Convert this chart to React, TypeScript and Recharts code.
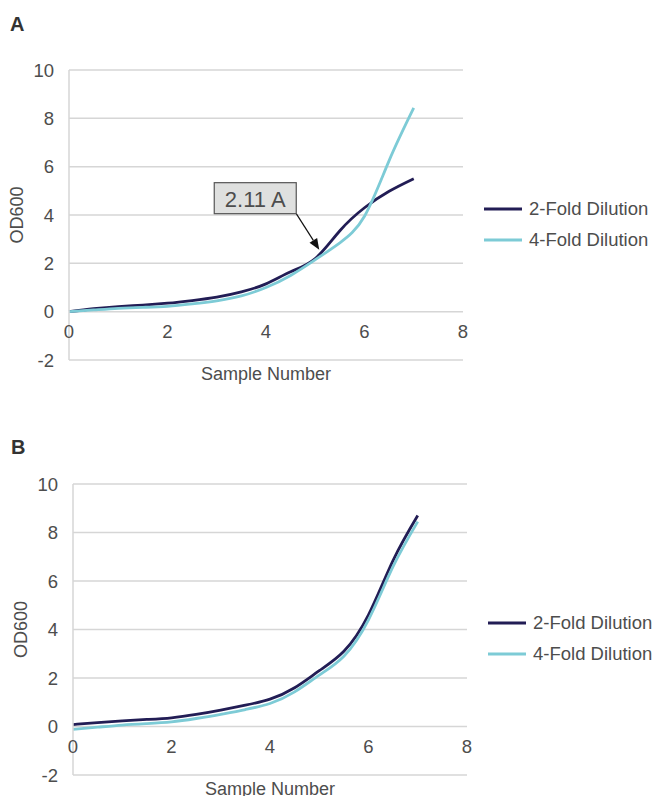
import React from "react";
import {
  LineChart,
  Line,
  XAxis,
  YAxis,
  CartesianGrid,
  Legend,
  ReferenceDot,
} from "recharts";

// sample numbers and OD600 values
const sampleX = [0, 0.5, 1, 1.5, 2, 2.5, 3, 3.5, 4, 4.5, 5, 5.5, 6, 6.5, 7];
const twoFoldA = [0, 0.12, 0.21, 0.27, 0.35, 0.46, 0.6, 0.82, 1.15, 1.65, 2.2, 3.35, 4.3, 4.98, 5.5];
const fourFoldA = [0, 0.07, 0.14, 0.18, 0.22, 0.32, 0.45, 0.65, 1.0, 1.5, 2.15, 2.85, 3.95, 6.25, 8.43];
const twoFoldB = [0.08, 0.16, 0.23, 0.29, 0.36, 0.5, 0.68, 0.88, 1.13, 1.6, 2.3, 3.1, 4.6, 6.85, 8.7];
const fourFoldB = [-0.12, -0.03, 0.06, 0.12, 0.19, 0.33, 0.5, 0.7, 0.95, 1.43, 2.12, 2.9, 4.4, 6.6, 8.45];

const yTicks = [-2, 0, 2, 4, 6, 8, 10];
const xTicks = [0, 2, 4, 6, 8];
const seriesNames = ["2-Fold Dilution", "4-Fold Dilution"];
const seriesColors = ["#221d55", "#7dcbd6"];

const annotationX = 5;
const annotationY = 2.11;
const annotationText = "2.11 A";

const dataA = sampleX.map((x, i) => ({ x, s2: twoFoldA[i], s4: fourFoldA[i] }));
const dataB = sampleX.map((x, i) => ({ x, s2: twoFoldB[i], s4: fourFoldB[i] }));

const FONT = "'Liberation Sans', Arial, Helvetica, sans-serif";
const TEXT = "#4d4d4d";
const GRID = "#d6d6d6";

const XTick = (props: any) => {
  const { x, y, payload } = props;
  // labels sit just under the zero line, not at the bottom of the plot
  return (
    <text x={x} y={y - 22} textAnchor="middle" fill={TEXT} fontSize={18.5} fontFamily={FONT}>
      {payload.value}
    </text>
  );
};

const LegendBox = (props: any) => {
  const items = props.payload || [];
  return (
    <div style={{ fontFamily: FONT, fontSize: 18.5, color: TEXT }}>
      {items.map((item: any) => (
        <div key={item.value} style={{ display: "flex", alignItems: "center", height: 31 }}>
          <svg width={38} height={6} style={{ marginRight: 7 }}>
            <line x1={0} y1={3} x2={38} y2={3} stroke={item.color} strokeWidth={3} />
          </svg>
          <span>{item.value}</span>
        </div>
      ))}
    </div>
  );
};

const Callout = (props: any) => {
  const { cx, cy } = props;
  const bx = cx - 101;
  const by = cy - 78;
  const sx = cx - 19;
  const sy = cy - 47;
  const tx = cx + 4;
  const ty = cy - 11;
  // arrow head along the line from box corner to tip
  const ang = Math.atan2(ty - sy, tx - sx);
  const len = 11;
  const half = 4.5;
  const baseX = tx - len * Math.cos(ang);
  const baseY = ty - len * Math.sin(ang);
  const p1 = `${baseX + half * Math.sin(ang)},${baseY - half * Math.cos(ang)}`;
  const p2 = `${baseX - half * Math.sin(ang)},${baseY + half * Math.cos(ang)}`;
  return (
    <g>
      <line x1={sx} y1={sy} x2={baseX} y2={baseY} stroke="#111" strokeWidth={1.2} />
      <polygon points={`${tx},${ty} ${p1} ${p2}`} fill="#111" />
      <rect x={bx} y={by} width={82} height={31} fill="#dfe0df" stroke="#555" strokeWidth={1.2} />
      <text x={bx + 41} y={by + 24} textAnchor="middle" fill={TEXT} fontSize={22} fontFamily={FONT}>
        {annotationText}
      </text>
    </g>
  );
};

function Panel({
  data,
  top,
  height,
  marginTop,
  marginBottom,
  marginLeft,
  marginRight,
  legendLeft,
  legendTop,
  withCallout,
}: any) {
  return (
    <div style={{ position: "absolute", left: 0, top }}>
      <LineChart
        width={656}
        height={height}
        data={data}
        margin={{ top: marginTop, right: marginRight, left: marginLeft, bottom: marginBottom }}
      >
        <CartesianGrid vertical={false} stroke={GRID} strokeWidth={1.5} />
        <XAxis
          dataKey="x"
          type="number"
          domain={[0, 8]}
          ticks={xTicks}
          height={25}
          axisLine={false}
          tickLine={false}
          tickSize={0}
          tickMargin={0}
          tick={<XTick />}
          label={{
            value: "Sample Number",
            position: "insideBottom",
            offset: 5,
            style: { fill: TEXT, fontSize: 18, fontFamily: FONT },
          }}
        />
        <YAxis
          type="number"
          domain={[-2, 10]}
          ticks={yTicks}
          width={57}
          axisLine={{ stroke: GRID, strokeWidth: 1.5 }}
          tickLine={false}
          tickSize={0}
          tickMargin={15}
          tick={{ fill: TEXT, fontSize: 18.5, fontFamily: FONT }}
          label={{
            value: "OD600",
            angle: -90,
            position: "insideLeft",
            style: { textAnchor: "middle", fill: TEXT, fontSize: 18, fontFamily: FONT },
          }}
        />
        <Line
          type="natural"
          dataKey="s2"
          name={seriesNames[0]}
          stroke={seriesColors[0]}
          strokeWidth={2.8}
          dot={false}
          isAnimationActive={false}
        />
        <Line
          type="natural"
          dataKey="s4"
          name={seriesNames[1]}
          stroke={seriesColors[1]}
          strokeWidth={2.8}
          dot={false}
          isAnimationActive={false}
        />
        {withCallout && (
          <ReferenceDot x={annotationX} y={annotationY} r={0} shape={<Callout />} />
        )}
        <Legend
          layout="vertical"
          align="center"
          verticalAlign="middle"
          wrapperStyle={{ left: legendLeft, top: legendTop, width: 172 }}
          content={<LegendBox />}
        />
      </LineChart>
    </div>
  );
}

export default function App() {
  return (
    <div
      style={{
        position: "absolute",
        left: 0,
        top: 0,
        width: 656,
        height: 796,
        overflow: "hidden",
        background: "#fff",
      }}
    >
      <div style={{ position: "absolute", left: 10, top: 13, fontFamily: FONT, fontWeight: 700, fontSize: 20, color: "#333" }}>
        A
      </div>
      <div style={{ position: "absolute", left: 11, top: 436, fontFamily: FONT, fontWeight: 700, fontSize: 20, color: "#333" }}>
        B
      </div>
      <Panel
        data={dataA}
        top={0}
        height={400}
        marginTop={70}
        marginBottom={15}
        marginLeft={12}
        marginRight={193}
        legendLeft={484}
        legendTop={193}
        withCallout
      />
      <Panel
        data={dataB}
        top={396}
        height={404}
        marginTop={88}
        marginBottom={0}
        marginLeft={16}
        marginRight={189}
        legendLeft={488}
        legendTop={211}
      />
    </div>
  );
}
